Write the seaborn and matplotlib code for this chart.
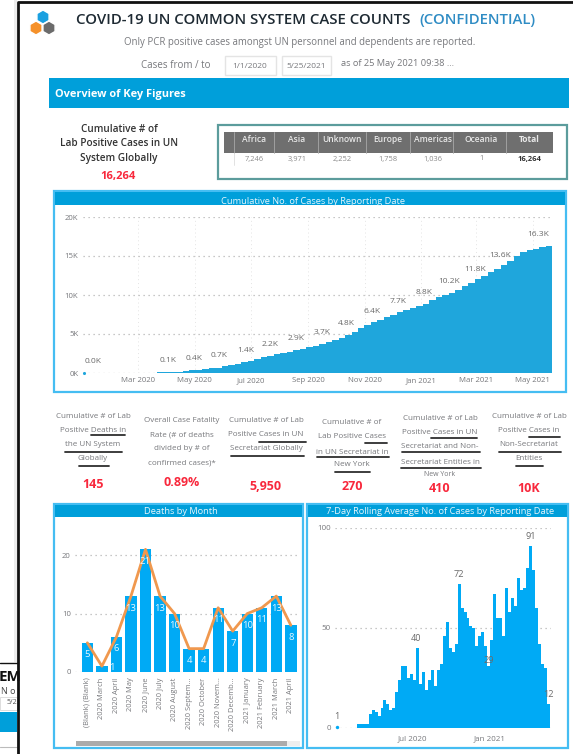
"""COVID-19 UN common system dashboard, rebuilt with seaborn."""
import matplotlib
matplotlib.use("Agg")
import matplotlib.pyplot as plt
from matplotlib.patches import Rectangle, RegularPolygon
import seaborn as sns

W, H = 573, 754
BLUE_HEAD = "#009FDA"
BLUE_FRAME = "#45BDF2"
BLUE_BAR = "#00AAF5"
BLUE_AREA = "#1FA6DC"
GRAY_TXT = "#77787C"
RED = "#F8283C"
ORANGE = "#F0984E"

# table
regions = ["Africa", "Asia", "Unknown", "Europe", "Americas", "Oceania", "Total"]
region_cases = ["7,246", "3,971", "2,252", "1,758", "1,036", "1", "16,264"]

# cumulative cases, one value per week from 26 Feb 2020
cum_days = [56 + 7 * i for i in range(65)]
cum_cases = [30, 40, 50, 60, 85, 100, 130, 190, 280, 340, 420, 500, 600, 690, 850, 1020,
             1210, 1390, 1600, 1800, 2010, 2200, 2380, 2550, 2740, 2900, 3080, 3290, 3500,
             3720, 4000, 4250, 4530, 4900, 5300, 5720, 6100, 6480, 6830, 7130, 7450, 7760,
             8050, 8350, 8600, 8900, 9300, 9700, 10000, 10300, 10700, 11150, 11550, 12000,
             12450, 12900, 13350, 13800, 14400, 15000, 15450, 15750, 15950, 16150, 16264]
cum_label_days = [12, 92, 121, 148, 176, 203, 231, 259, 285, 313, 341, 369, 396, 424, 451, 492]
cum_label_vals = [0, 100, 400, 700, 1400, 2200, 2900, 3700, 4800, 6400, 7700, 8800, 10200,
                  11800, 13600, 16300]
cum_labels = ["0.0K", "0.1K", "0.4K", "0.7K", "1.4K", "2.2K", "2.9K", "3.7K", "4.8K", "6.4K",
              "7.7K", "8.8K", "10.2K", "11.8K", "13.6K", "16.3K"]
cum_tick_days = [60, 121, 182, 244, 305, 366, 425, 486]
cum_tick_labels = ["Mar 2020", "May 2020", "Jul 2020", "Sep 2020", "Nov 2020", "Jan 2021",
                   "Mar 2021", "May 2021"]

# deaths by month
months = ["(Blank) (Blank)", "2020 March", "2020 April", "2020 May", "2020 June", "2020 July",
          "2020 August", "2020 Septem...", "2020 October", "2020 Novem...", "2020 Decemb...",
          "2021 January", "2021 February", "2021 March", "2021 April"]
deaths = [5, 1, 6, 13, 21, 13, 10, 4, 4, 11, 7, 10, 11, 13, 8]

# 7 day rolling average, one value per week from 24 Feb 2020
roll_days = [55 + 7 * i for i in range(65)]
roll_avg = [2, 2, 2, 2, 7, 9, 8, 6, 10, 14, 12, 9, 10, 18, 24, 31, 31, 25, 27, 24, 40, 22, 28,
            19, 24, 29, 21, 29, 32, 46, 53, 40, 38, 42, 72, 60, 58, 55, 51, 50, 41, 46, 48, 41,
            31, 44, 67, 55, 55, 46, 70, 58, 65, 61, 75, 69, 70, 80, 91, 79, 60, 42, 32, 30, 12]
roll_label_days = [5, 191, 292, 363, 462, 503]
roll_label_vals = [1, 40, 72, 29, 91, 12]

# KPI blocks
kpi_lines = [
    ["Cumulative # of Lab", "Positive Deaths in", "the UN System", "Globally"],
    ["Overall Case Fatality", "Rate (# of deaths", "divided by # of", "confirmed cases)*"],
    ["Cumulative # of Lab", "Positive Cases in UN", "Secretariat Globally"],
    ["Cumulative # of", "Lab Positive Cases", "in UN Secretariat in", "New York"],
    ["Cumulative # of Lab", "Positive Cases in UN", "Secretariat and Non-", "Secretariat Entities in", "New York"],
    ["Cumulative # of Lab", "Positive Cases in", "Non-Secretariat", "Entities"],
]
kpi_values = ["145", "0.89%", "5,950", "270", "410", "10K"]

sns.set_theme(style="white")
plt.rcParams["font.family"] = ["Open Sans", "DejaVu Sans"]

fig = plt.figure(figsize=(W / 100, H / 100), dpi=100, facecolor="white")


def ax_px(x0, y0, x1, y1, **kw):
    return fig.add_axes([x0 / W, 1 - y1 / H, (x1 - x0) / W, (y1 - y0) / H], **kw)


bg = ax_px(0, 0, W, H)
bg.set_xlim(0, W)
bg.set_ylim(H, 0)
bg.axis("off")


def rect(x0, y0, x1, y1, fc="none", ec="none", lw=0.0, z=1):
    bg.add_patch(Rectangle((x0, y0), x1 - x0, y1 - y0, fc=fc, ec=ec, lw=lw, zorder=z))


def txt(x, y, s, size=7, color=GRAY_TXT, ha="center", weight="normal", **kw):
    return bg.text(x, y, s, fontsize=size, color=color, ha=ha, va="center", weight=weight, **kw)


def uline(x0, x1, y):
    bg.plot([x0, x1], [y, y], color="#2E2E2E", lw=1.3, solid_capstyle="round", zorder=3)


# page edge and the clipped sheet behind it
rect(14, 0, 17, 662, fc="#ECECEC")
bg.plot([18, 18, W], [H, 2, 2], color="#111111", lw=2.0, zorder=4)
bg.plot([0, 18], [663, 663], color="#111111", lw=1.0, zorder=4)
txt(-1, 677, "EM", size=11, color="#111111", ha="left", weight="bold")
txt(1, 691, "N o", size=6.5, color="#444444", ha="left")
rect(0, 697, 17, 710, ec="#DDDDDD", lw=0.7)
txt(7, 703, "5/2", size=5, color="#555555", ha="left")
rect(0, 712, 17, 732, fc=BLUE_HEAD)
bg.plot([0, 17], [747, 747], color="#BBBBBB", lw=0.8)

# logo
bg.add_patch(RegularPolygon((43, 17), 6, radius=7, fc="#1AA0E0"))
bg.add_patch(RegularPolygon((36, 28), 6, radius=7, fc="#F5912A"))
bg.add_patch(RegularPolygon((49, 28), 6, radius=7, fc="#6B6B6B"))

# heading
txt(76, 20, "COVID-19 UN COMMON SYSTEM CASE COUNTS", size=10.8, color="#1E2A33", ha="left", weight="semibold")
txt(419, 20, "(CONFIDENTIAL)", size=10.7, color="#2F8CC4", ha="left", weight="semibold")
txt(300, 42, "Only PCR positive cases amongst UN personnel and dependents are reported.", size=6.95)
txt(176, 66, "Cases from / to", size=7)
rect(225, 56, 276, 75, ec="#E4E4E4", lw=1)
rect(282, 56, 331, 75, ec="#E4E4E4", lw=1)
txt(250, 66, "1/1/2020", size=6)
txt(306, 66, "5/25/2021", size=6)
txt(341, 63, "as of 25 May 2021 09:38 ...", size=6.7, ha="left")

rect(49, 78, 569, 108, fc=BLUE_HEAD)
txt(55, 94, "Overview of Key Figures", size=7.9, color="white", ha="left", weight="bold")

# cumulative figure on the left
for yy, line in zip([130, 143, 158], ["Cumulative # of", "Lab Positive Cases in UN", "System Globally"]):
    txt(119, yy, line, size=7.2, color="#333333", weight="semibold")
txt(118, 177, "16,264", size=8, color=RED, weight="bold")

# region table
rect(218, 125, 567, 179, ec="#5C9C9C", lw=1.6)
rect(224, 132, 553, 153, fc="#6F6F6F")
for sx in [234, 274, 318, 366, 410, 453, 506]:
    bg.plot([sx, sx], [132, 153], color="#A8A8A8", lw=0.6, zorder=2)
bg.plot([234, 234], [153, 165], color="#DDDDDD", lw=0.6)
for cx, reg, val in zip([254, 297, 342, 388, 433, 481, 529], regions, region_cases):
    last = reg == "Total"
    txt(cx, 140, reg, size=6.1, color="#E9E9E9", weight="bold" if last else "semibold", zorder=3)
    txt(cx, 159, val, size=5.4, color="#333333" if last else "#8A8A8A", weight="bold" if last else "normal")

# panel frames
panels = [(54, 191, 566, 392, 205, 313, 201, "Cumulative No. of Cases by Reporting Date"),
          (54, 504, 303, 748, 517, 181, 512, "Deaths by Month"),
          (307, 504, 568, 748, 517, 440, 512, "7-Day Rolling Average No. of Cases by Reporting Date")]
for x0, y0, x1, y1, yh, tx, ty, title in panels:
    rect(x0, y0, x1, y1, fc="white", ec=BLUE_FRAME, lw=1.6)
    rect(x0 + 1, y0 + 1, x1 - 1, yh, fc=BLUE_HEAD, z=2)
    txt(tx, ty, title, size=6.7, color="#E8F6FC", zorder=3)

# KPI row
kpi_cx = [93, 182, 266, 352, 440, 529]
kpi_y = [[417, 431, 445, 459], [421, 435, 449, 463], [421, 435, 449], [422, 437, 452, 465],
         [419, 433, 447, 462, 475], [416, 431, 444, 459]]
kpi_vy = [485, 483, 486, 487, 488, 488]
for cx, lines, ys, vy, val in zip(kpi_cx, kpi_lines, kpi_y, kpi_vy, kpi_values):
    for yy, line in zip(ys, lines):
        txt(cx, yy, line, size=5.0 if line == "New York" and cx == 440 else 5.8)
    txt(cx, vy, val, size=9, color=RED, weight="bold")
for x0, x1, yy in [(91, 125, 435), (65, 122, 452), (79, 109, 466),
                   (259, 306, 442), (231, 304, 456),
                   (365, 387, 443), (317, 389, 457), (335, 370, 472),
                   (431, 477, 438), (402, 480, 452), (401, 481, 468),
                   (529, 560, 437), (499, 561, 452), (516, 543, 466)]:
    uline(x0, x1, yy)

# scroll bar of the deaths chart
rect(76, 741, 300, 746, fc="#EEEEEE", z=2)
rect(76, 741, 287, 746, fc="#ABABAB", z=3)


def style_axis(ax):
    ax.set_facecolor("none")
    ax.set(xlabel="", ylabel="")
    sns.despine(ax=ax, left=True, bottom=True)
    ax.grid(axis="y", color="#B5B5B5", ls=(0, (1, 3)), lw=0.9)
    ax.grid(axis="x", visible=False)
    ax.set_axisbelow(True)
    ax.tick_params(length=0, colors=GRAY_TXT, labelsize=5.6, pad=3)


# cumulative chart
ax1 = ax_px(82.5, 217, 552, 373)
sns.barplot(x=cum_days, y=cum_cases, native_scale=True, width=1.0, color=BLUE_AREA,
            saturation=1, linewidth=0, ax=ax1)
ax1.set_xlim(0, 507)
ax1.set_ylim(0, 20000)
ax1.set_yticks([0, 5000, 10000, 15000, 20000], ["0K", "5K", "10K", "15K", "20K"])
ax1.set_xticks(cum_tick_days, cum_tick_labels)
style_axis(ax1)
ax1.grid(axis="x", color="#E4E4E4", ls=(0, (1, 3)), lw=0.7)
sns.scatterplot(x=[2], y=[0], color=BLUE_AREA, s=5, linewidth=0, ax=ax1, clip_on=False)
ax1.set(xlabel="", ylabel="")
for d, v, s in zip(cum_label_days, cum_label_vals, cum_labels):
    ax1.annotate(s, (d, v), xytext=(0, 8.5), textcoords="offset points", ha="center",
                 va="center", fontsize=6, color="#6A6A6A", zorder=5)

# deaths chart
ax2 = ax_px(75, 526, 300, 672)
sns.barplot(x=months, y=deaths, color=BLUE_BAR, saturation=1, width=0.78, linewidth=0, ax=ax2)
sns.lineplot(x=months, y=deaths, sort=False, color=ORANGE, lw=2, errorbar=None, ax=ax2)
ax2.set_xlim(-0.85, 14.63)
ax2.set_ylim(0, 25)
ax2.set_yticks([0, 10, 20])
style_axis(ax2)
ax2.tick_params(axis="x", rotation=90, labelsize=5.4, pad=4)
for i, v in enumerate(deaths):
    # the label of the smallest bar does not fit and slips to its right
    dx, dy = (7, -1) if v == 1 else (0, -8.6)
    ax2.annotate(str(v), (i, v), xytext=(dx, dy), textcoords="offset points", ha="center",
                 va="center", fontsize=6.8, color="#E8F7FF", zorder=5)

# rolling average chart
ax3 = ax_px(335, 528, 551, 728)
sns.barplot(x=roll_days, y=roll_avg, native_scale=True, width=1.0, color=BLUE_BAR,
            saturation=1, linewidth=0, ax=ax3)
ax3.set_xlim(0, 510)
ax3.set_ylim(0, 100)
ax3.set_yticks([0, 50, 100])
ax3.set_xticks([182, 366], ["Jul 2020", "Jan 2021"])
style_axis(ax3)
ax3.tick_params(labelsize=5.8)
ax3.tick_params(axis="x", pad=5)
sns.scatterplot(x=[5], y=[0.5], color=BLUE_BAR, s=6, linewidth=0, ax=ax3, clip_on=False)
ax3.set(xlabel="", ylabel="")
for d, v in zip(roll_label_days, roll_label_vals):
    ax3.annotate(str(v), (d, v), xytext=(0, 7), textcoords="offset points", ha="center",
                 va="center", fontsize=6.6, color="#6A6A6A", zorder=5)

fig.savefig("out.png", dpi=100)
